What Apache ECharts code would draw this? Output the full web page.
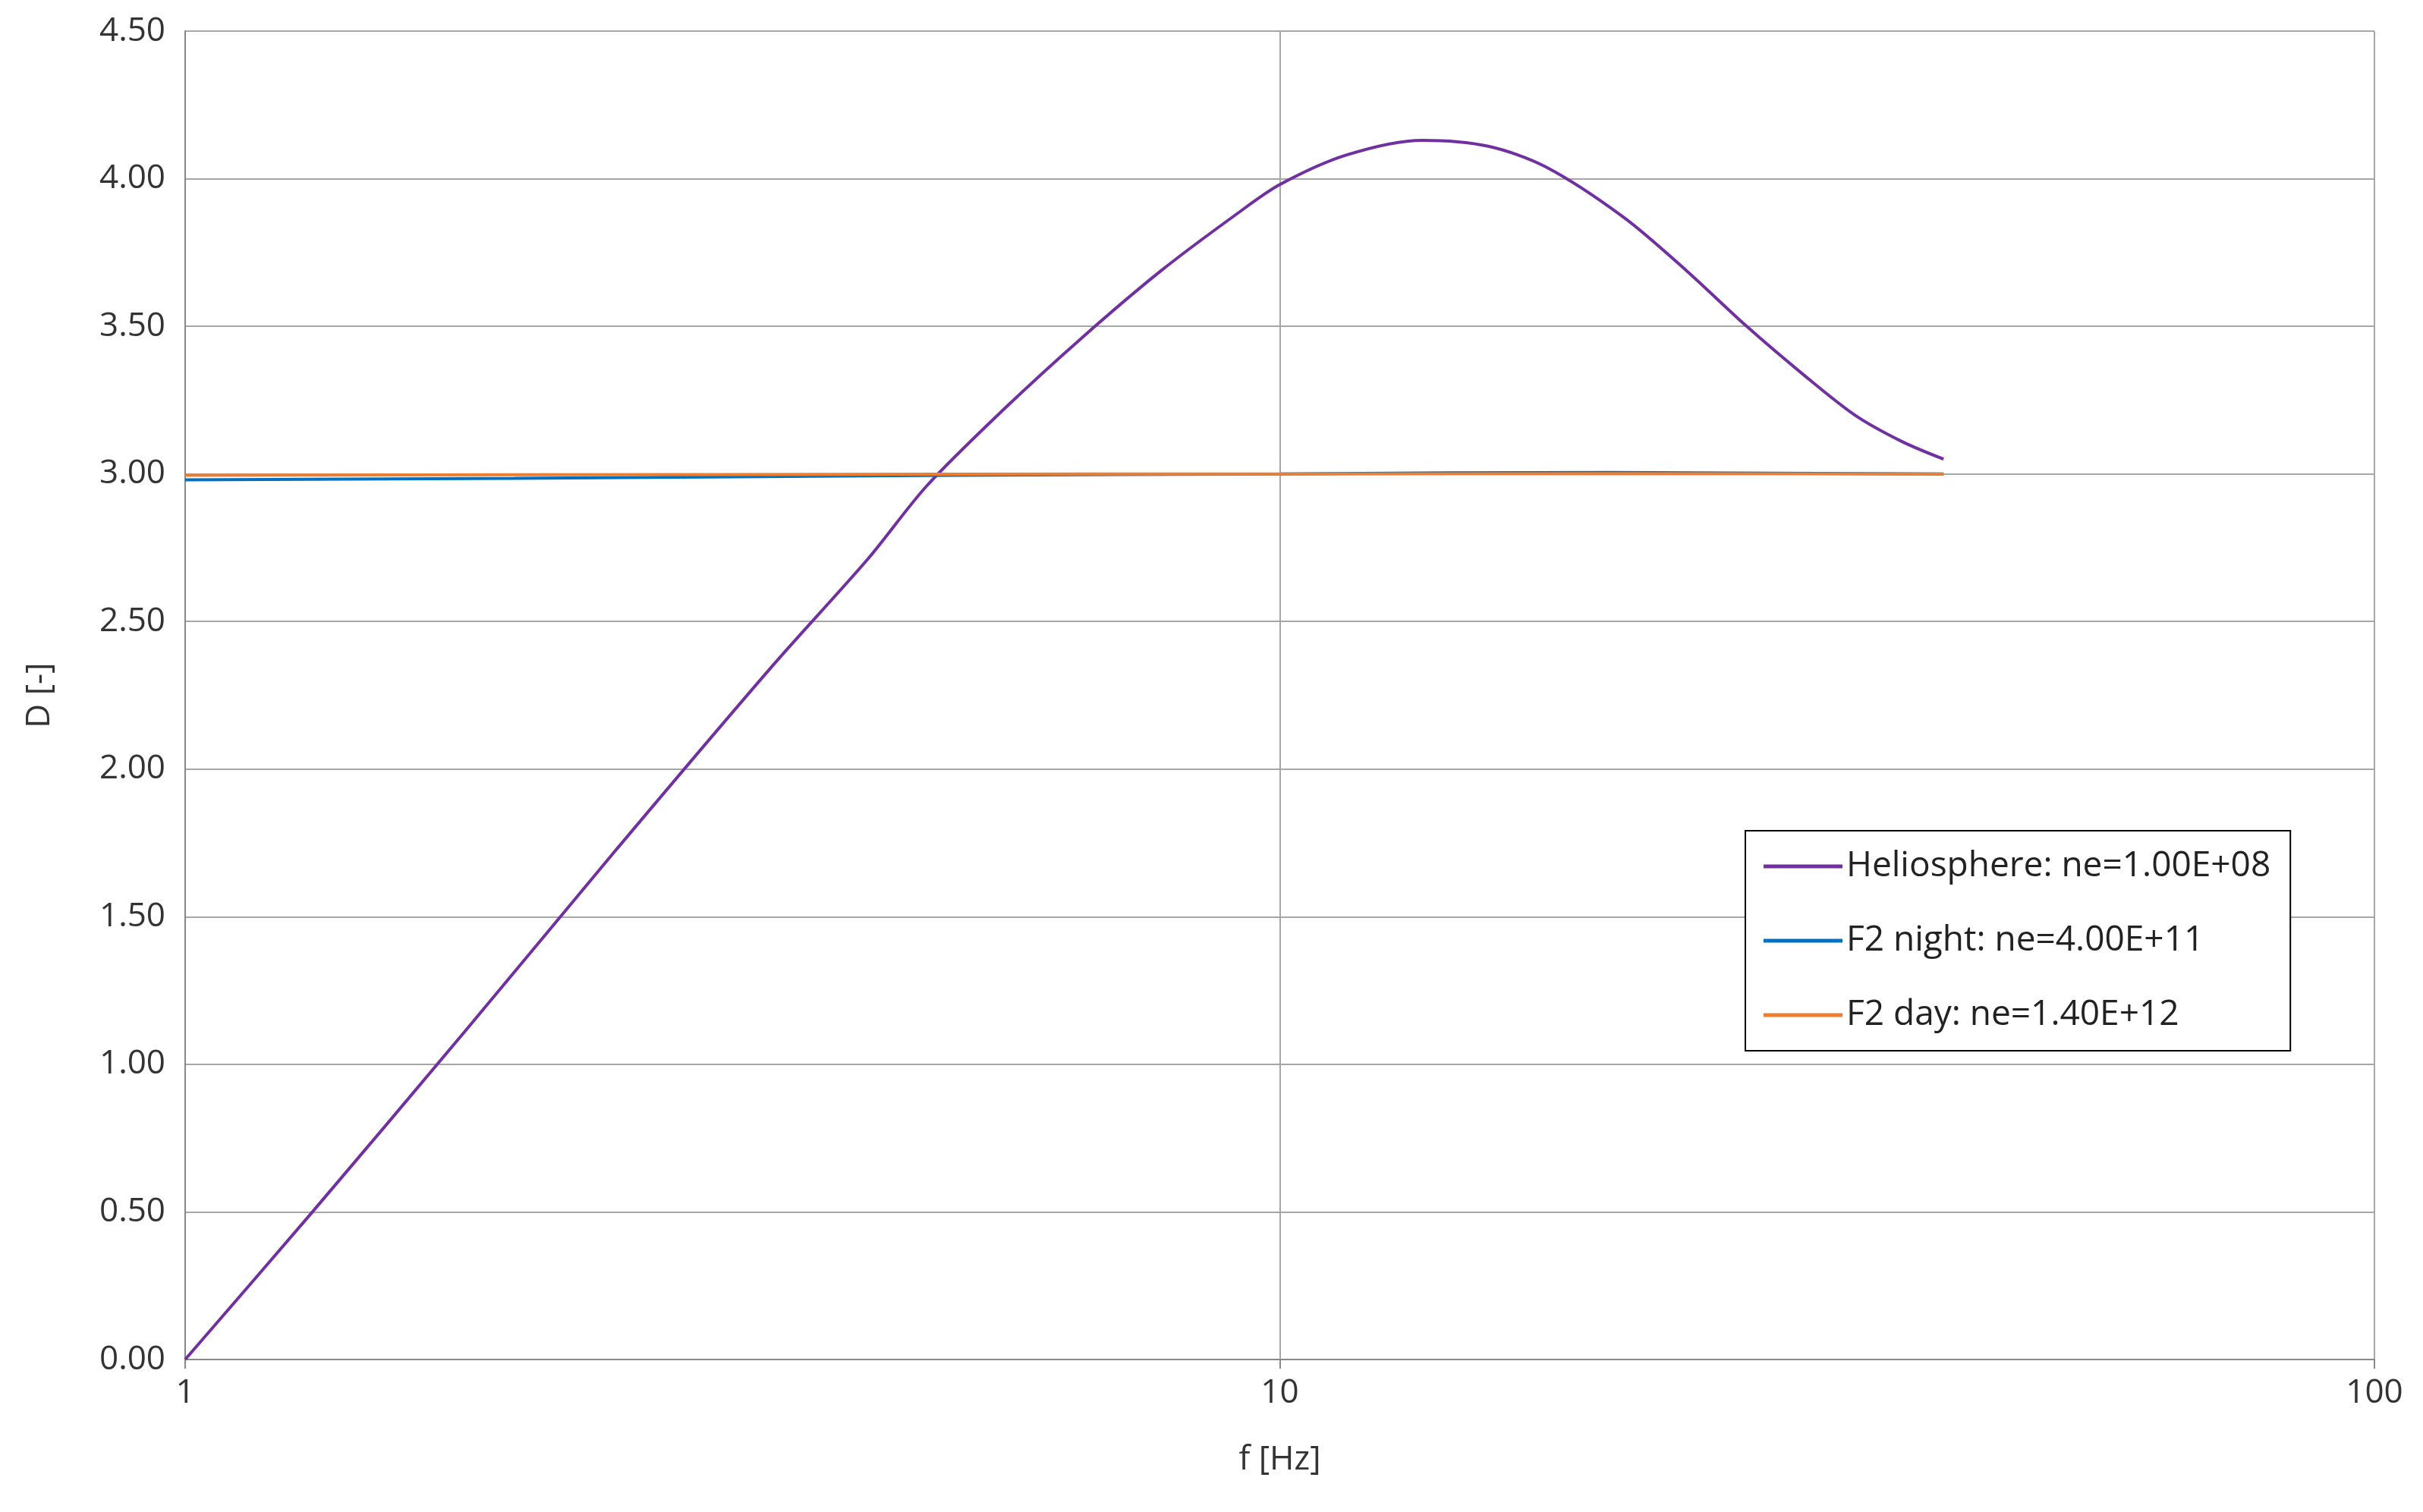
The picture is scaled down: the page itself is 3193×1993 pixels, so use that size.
<!DOCTYPE html>
<html><head><meta charset="utf-8">
<script src="https://cdn.jsdelivr.net/npm/echarts@6/dist/echarts.min.js"></script>
<style>html,body{margin:0;background:#fff}#c{width:3193px;height:1993px}</style>
</head><body><div id="c"></div>
<script>
// values
var helioF = [1, 1.3, 1.8, 2.48, 3.44, 4.2, 4.76, 5.6, 6.59, 7.8, 9.13, 10, 11.5, 13.5, 15.5, 17.5, 20.6, 23.5, 26.7, 30, 33.5, 37, 40.4];
var helioD = [0, 0.49, 1.11, 1.73, 2.35, 2.71, 2.96, 3.22, 3.46, 3.69, 3.88, 3.98, 4.08, 4.13, 4.11, 4.04, 3.87, 3.69, 3.50, 3.34, 3.20, 3.11, 3.05];
var nightF = [1, 2, 5, 10, 20, 40.4];
var nightD = [2.98, 2.985, 2.995, 3.0, 3.005, 3.0];
var dayF = [1, 2, 5, 10, 20, 40.4];
var dayD = [2.995, 2.997, 2.999, 3.0, 3.001, 3.0];
var names = ['Heliosphere: ne=1.00E+08', 'F2 night: ne=4.00E+11', 'F2 day: ne=1.40E+12'];
var colors = ['#7030a0', '#0070c0', '#ed7d31'];

function zip(a, b) { return a.map(function (v, i) { return [v, b[i]]; }); }

var chart = echarts.init(document.getElementById('c'));
var font = 'Open Sans';
chart.setOption({
  animation: false,
  textStyle: { fontFamily: font },
  grid: { left: 244, right: 64, top: 41, bottom: 201 },
  legend: {
    orient: 'vertical', left: 2300, top: 1095,
    data: names, icon: 'rect', itemWidth: 104, itemHeight: 5, itemGap: 52,
    padding: [24, 26, 24, 24],
    borderColor: '#000', borderWidth: 2, backgroundColor: '#fff',
    textStyle: { fontSize: 46, color: '#222', fontFamily: font }
  },
  xAxis: {
    type: 'log', logBase: 10, min: 1, max: 100,
    name: 'f [Hz]', nameLocation: 'middle', nameGap: 110,
    nameTextStyle: { fontSize: 44, color: '#333' },
    axisLine: { lineStyle: { color: '#888', width: 2 } },
    axisTick: { show: true, length: 12, lineStyle: { color: '#888', width: 2 } },
    axisLabel: { fontSize: 44, color: '#333', margin: 22 },
    splitLine: { show: true, lineStyle: { color: '#a6a6a6', width: 2 } },
    minorTick: { show: false }
  },
  yAxis: {
    type: 'value', min: 0, max: 4.5, interval: 0.5,
    name: 'D [-]', nameLocation: 'middle', nameGap: 170, nameRotate: 90,
    nameTextStyle: { fontSize: 44, color: '#333' },
    axisLine: { show: true, lineStyle: { color: '#888', width: 2 } },
    axisTick: { show: false },
    axisLabel: { fontSize: 44, color: '#333', margin: 26, formatter: function (v) { return v.toFixed(2); } },
    splitLine: { show: true, lineStyle: { color: '#a6a6a6', width: 2 } }
  },
  series: [
    { name: names[0], type: 'line', smooth: 0.3, showSymbol: false, data: zip(helioF, helioD), lineStyle: { color: colors[0], width: 4 }, itemStyle: { color: colors[0] } },
    { name: names[1], type: 'line', smooth: true, showSymbol: false, data: zip(nightF, nightD), lineStyle: { color: colors[1], width: 4 }, itemStyle: { color: colors[1] } },
    { name: names[2], type: 'line', smooth: true, showSymbol: false, data: zip(dayF, dayD), lineStyle: { color: colors[2], width: 4 }, itemStyle: { color: colors[2] } }
  ]
});
</script></body></html>
